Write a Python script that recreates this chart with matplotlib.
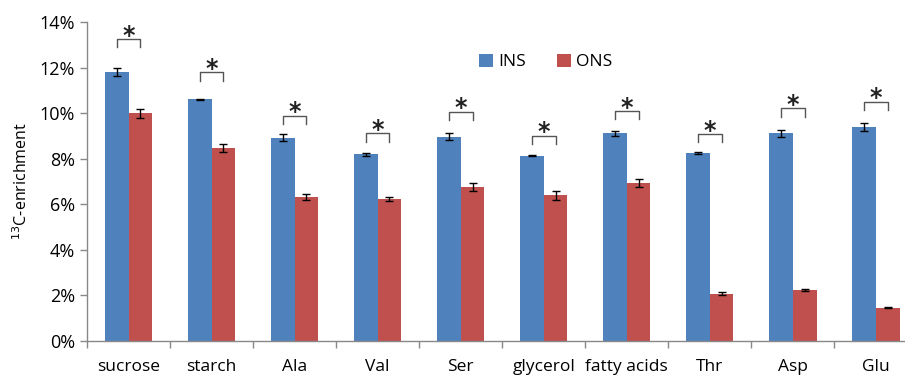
import matplotlib
matplotlib.use("Agg")
import matplotlib.pyplot as plt
import numpy as np
from matplotlib.ticker import FuncFormatter, FixedLocator

categories = ["sucrose", "starch", "Ala", "Val", "Ser", "glycerol", "fatty acids", "Thr", "Asp", "Glu"]
ins_values = [11.8, 10.6, 8.92, 8.19, 8.96, 8.13, 9.11, 8.25, 9.11, 9.38]
ins_errors = [0.18, 0.02, 0.15, 0.06, 0.15, 0.03, 0.1, 0.03, 0.15, 0.18]
ons_values = [10.0, 8.46, 6.33, 6.23, 6.76, 6.39, 6.95, 2.08, 2.24, 1.46]
ons_errors = [0.2, 0.18, 0.12, 0.1, 0.18, 0.18, 0.18, 0.05, 0.03, 0.03]
bracket_tops = [13.25, 11.79, 9.88, 9.11, 10.06, 9.0, 10.09, 9.08, 10.21, 10.5]
series_names = ["INS", "ONS"]

plt.rcParams['font.family'] = ['Open Sans', 'DejaVu Sans']

fig = plt.figure(figsize=(9.05, 3.76), dpi=100)
ax = fig.add_axes([87/905, 35/376, 1 - 87/905, (341-22)/376])

x = np.arange(len(categories))
w = 0.285
blue = "#4F81BD"
red = "#C0504D"
ax.bar(x - w/2, ins_values, w, color=blue, label=series_names[0], zorder=2)
ax.bar(x + w/2, ons_values, w, color=red, label=series_names[1], zorder=2)
ax.errorbar(x - w/2, ins_values, yerr=ins_errors, fmt='none', ecolor='black',
            elinewidth=1.0, capsize=3, capthick=1.0, zorder=3)
ax.errorbar(x + w/2, ons_values, yerr=ons_errors, fmt='none', ecolor='black',
            elinewidth=1.0, capsize=3, capthick=1.0, zorder=3)

leg_len = 0.36
for xi, top in zip(x, bracket_tops):
    ax.plot([xi - w/2, xi - w/2, xi + w/2, xi + w/2],
            [top - leg_len, top, top, top - leg_len], color='#555555', lw=1.0, zorder=3)
    ax.text(xi, top - 0.15, "*", ha='center', va='baseline', fontsize=17,
            family='DejaVu Sans', fontweight='bold', color='#222222')

ax.set_ylim(0, 14)
ax.set_xlim(-0.5, -0.5 + (905 - 87) / 83.04)
ax.set_yticks(np.arange(0, 15, 2))
ax.yaxis.set_major_formatter(FuncFormatter(lambda v, p: f"{int(v)}%"))
ax.set_xticks(x)
ax.set_xticklabels(categories)
ax.xaxis.set_minor_locator(FixedLocator(np.arange(-0.5, 10.5, 1.0)))
ax.tick_params(axis='x', which='major', length=0, pad=13, labelsize=12.5, colors='black')
ax.tick_params(axis='x', which='minor', length=5, width=1, color='#888888', direction='out')
ax.tick_params(axis='y', length=5, width=1, color='#888888', labelsize=13, direction='out')

for s in ['top', 'right']:
    ax.spines[s].set_visible(False)
for s in ['left', 'bottom']:
    ax.spines[s].set_color('#888888')
    ax.spines[s].set_linewidth(1.0)

ax.set_ylabel("$^{13}$C-enrichment", fontsize=11.5, labelpad=6)

ax.legend(ncol=2, frameon=False, loc='center', bbox_to_anchor=(546/905, 1 - 62/376),
          bbox_transform=fig.transFigure, fontsize=12.5, handlelength=0.8,
          handleheight=0.8, columnspacing=1.8, handletextpad=0.3)

fig.savefig("out.png", dpi=100)
